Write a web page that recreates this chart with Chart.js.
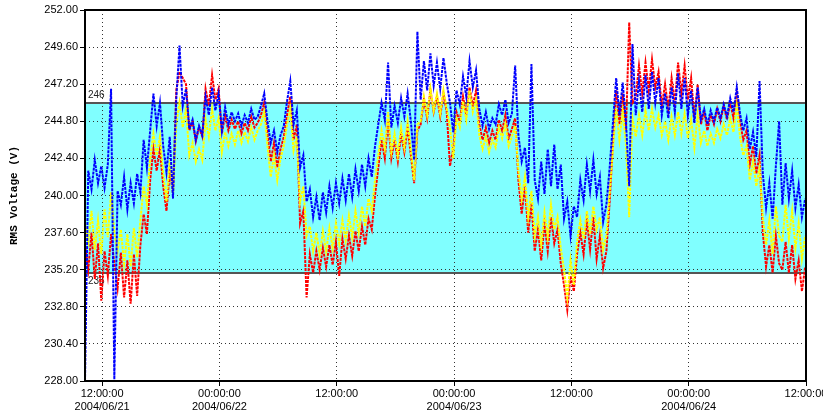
<!DOCTYPE html>
<html>
<head>
<meta charset="utf-8">
<script src="https://cdn.jsdelivr.net/npm/chart.js@4/dist/chart.umd.min.js"></script>
<style>
  html, body { margin: 0; padding: 0; background: #fff; overflow: hidden; }
  #wrap { width: 823px; height: 415px; }
</style>
</head>
<body>
<div id="wrap"><canvas id="voltChart" width="823" height="415"></canvas></div>
<script>
// Samples every 20 minutes, starting 10:15 on 2004/06/21 (hours counted from 06/21 00:00)
const startHour = 10.25;
const stepHours = 1 / 3;

const blueValues = [
  228.0, 241.6, 240.4, 242.3, 240.8, 241.9, 240.5, 242.0, 246.9, 228.1,
  240.3, 239.4, 241.2, 239.1, 240.8, 239.5, 241.4, 240.2, 243.6, 241.8,
  244.2, 246.6, 244.5, 246.0, 243.2, 241.5, 243.8, 239.8, 246.2, 249.7,
  245.8, 246.9, 244.3, 244.9, 243.6, 244.5, 243.9, 246.4, 245.2, 247.0,
  245.5, 246.6, 244.2, 245.7, 244.6, 245.4, 244.8, 245.3, 244.5, 245.2,
  244.7, 245.6, 244.9, 245.1, 245.8, 246.6, 244.8, 243.4, 244.2, 242.8,
  243.9, 244.5, 246.1, 247.4, 244.6, 245.5, 241.8, 242.6, 239.6, 240.4,
  238.6, 239.9, 238.4, 240.2, 238.9, 240.6, 239.2, 240.8, 239.5, 241.1,
  239.7, 241.4, 239.9, 241.7, 240.3, 242.0, 240.6, 242.4, 241.2, 243.2,
  244.6, 246.0, 244.9, 248.6, 244.4, 245.8, 244.7, 246.3, 245.1, 246.6,
  244.8, 242.3, 250.6, 246.2, 248.7, 246.8, 249.2, 247.1, 248.6, 246.9,
  248.9, 247.3, 246.0, 244.1, 246.8, 245.9, 247.7, 246.4, 248.7, 247.0,
  248.1, 245.6, 244.5, 245.4, 244.3, 245.0, 244.6, 245.9, 245.2, 246.2,
  244.7, 245.3, 248.4, 243.9, 242.2, 243.1, 240.8, 248.5, 241.0, 239.8,
  242.2, 240.1, 243.0, 240.6, 243.3, 240.4, 242.0, 238.5, 239.6, 237.4,
  239.3, 238.6, 241.0, 239.7, 242.0, 240.3, 242.3, 240.1, 241.2, 238.3,
  239.4, 241.8, 244.7, 247.6, 245.2, 247.3, 244.8, 240.6, 249.8, 245.2,
  247.4, 245.4, 247.8, 245.6, 248.0, 246.0, 247.6, 245.2, 246.6, 245.0,
  247.0, 245.4, 247.9, 245.6, 247.6, 245.2, 246.8, 244.7, 247.0, 244.9,
  245.6, 244.6, 245.5, 244.8, 245.7, 245.0, 245.9, 245.1, 246.3, 245.4,
  247.0, 245.3, 244.2, 245.0, 243.0, 244.1, 242.5, 247.4, 241.4, 239.2,
  240.8, 238.5, 241.9, 244.8, 239.4, 242.1, 239.8, 241.6, 239.2, 240.7,
  238.6, 239.8
];

const yellowValues = [
  238.2, 237.0, 239.0, 236.5, 238.4, 236.2, 239.1, 237.3, 240.2, 237.6,
  236.4, 237.8, 235.6, 237.5, 235.4, 237.9, 236.0, 238.4, 240.6, 239.4,
  242.4, 244.0, 242.6, 243.8, 241.4, 239.6, 242.3, 240.0, 244.6, 246.0,
  244.4, 245.6, 242.6, 243.4, 242.2, 243.0, 242.3, 244.9, 243.8, 245.6,
  244.2, 245.0, 242.8, 244.1, 243.2, 244.0, 243.3, 244.2, 243.4, 244.1,
  243.5, 244.4, 243.6, 244.2, 244.6, 245.4, 243.2, 241.2, 242.6, 241.0,
  242.4, 243.2, 244.6, 245.6, 242.9, 243.8, 239.6, 240.6, 237.4, 238.0,
  236.4, 237.6, 236.2, 237.7, 236.4, 237.9, 236.6, 238.2, 236.9, 238.4,
  237.1, 238.7, 237.3, 239.0, 237.6, 239.3, 238.0, 239.8, 239.0, 241.0,
  242.6, 244.2, 243.0, 245.4, 242.8, 244.0, 242.6, 244.4, 243.1, 244.8,
  242.9, 241.0, 244.6, 244.8, 246.4, 245.2, 246.9, 245.5, 246.6, 245.3,
  246.8, 245.6, 244.4, 242.4, 245.0, 244.4, 246.1, 244.9, 246.8, 245.4,
  246.2, 243.9, 243.0, 243.8, 242.8, 243.6, 243.1, 244.4, 243.7, 244.6,
  243.2, 243.8, 244.5, 241.6, 239.8, 241.2, 238.6, 240.3, 237.4, 238.6,
  236.8, 238.9, 237.3, 239.4, 237.8, 238.6, 236.6, 235.2, 233.4, 235.8,
  234.2, 237.0, 238.4, 237.2, 239.0, 237.5, 239.3, 237.8, 238.6, 236.5,
  237.4, 240.2, 243.0, 245.6, 243.6, 245.4, 243.3, 238.6, 245.0, 243.8,
  245.2, 243.9, 245.5, 244.2, 245.6, 244.4, 245.2, 243.9, 244.8, 243.6,
  245.1, 243.9, 245.4, 244.0, 245.3, 243.7, 244.9, 243.1, 245.2, 243.4,
  244.2, 243.2, 244.0, 243.4, 244.3, 243.7, 244.6, 243.9, 245.0, 244.1,
  245.8, 243.8, 242.6, 243.2, 241.0, 242.2, 240.6, 241.8, 238.6, 236.8,
  238.4, 236.2, 239.3, 237.4, 237.0, 239.4, 237.2, 239.0, 236.6, 238.2,
  235.9, 237.4
];

const redValues = [
  236.8, 235.2, 237.6, 234.6, 236.9, 233.2, 236.4, 234.8, 237.5, 235.6,
  234.0, 236.3, 233.4, 235.8, 233.0, 236.2, 233.5, 236.8, 238.8, 237.5,
  241.0, 243.0, 241.6, 243.0, 240.6, 239.0, 241.5, 240.2, 246.8, 248.0,
  247.6, 247.2, 244.2, 244.8, 243.5, 244.4, 243.8, 246.9, 245.8, 247.8,
  246.2, 246.9, 244.0, 245.2, 244.2, 244.9, 244.3, 244.8, 244.0, 244.7,
  244.2, 245.1, 244.4, 244.7, 245.2, 246.0, 244.0, 242.2, 243.4, 241.8,
  243.0, 243.8, 245.2, 246.4, 243.6, 244.6, 238.2, 239.0, 233.4, 236.2,
  235.0, 236.4, 235.2, 236.6, 235.4, 236.8, 235.5, 237.0, 234.8, 237.2,
  235.9, 237.4, 236.1, 237.7, 236.4, 238.0, 236.8, 238.5, 237.8, 240.0,
  241.8, 243.6, 242.4, 244.8, 242.4, 243.6, 242.2, 244.0, 242.8, 244.4,
  242.6, 240.8, 244.2, 244.6, 246.2, 245.0, 246.8, 245.4, 246.4, 245.1,
  246.6, 245.4, 241.9, 243.0, 245.4, 244.8, 246.4, 245.2, 247.0, 245.8,
  246.8, 244.6, 243.6, 244.4, 243.4, 244.2, 243.6, 244.9, 244.2, 245.2,
  243.7, 244.3, 245.0, 241.0, 238.8, 240.6, 237.6, 239.5, 236.4, 237.8,
  235.8, 238.2, 236.4, 238.6, 236.9, 237.8, 235.6, 234.2, 232.6, 234.8,
  233.8, 236.2, 237.6, 236.2, 238.4, 236.5, 238.6, 235.9, 237.4, 235.3,
  236.4, 239.6, 243.4, 246.8, 244.6, 246.6, 244.2, 251.2, 246.0, 246.4,
  248.4, 246.6, 248.6, 246.8, 248.8, 247.0, 248.0, 245.8, 247.2, 245.6,
  247.6, 246.0, 248.6, 246.6, 248.4, 246.2, 247.6, 245.0, 247.2, 244.6,
  245.4, 244.2, 245.2, 244.6, 245.6, 244.8, 245.8, 244.9, 246.0, 245.0,
  246.6, 244.8, 243.6, 244.2, 242.0, 243.2, 241.4, 242.6, 237.6, 235.4,
  236.8, 235.0, 237.4, 235.6, 235.2, 237.0, 235.0, 236.8, 234.6, 235.8,
  233.8, 235.4
];

const yTicks = [228, 230.4, 232.8, 235.2, 237.6, 240, 242.4, 244.8, 247.2, 249.6, 252];
const xTicks = [12, 24, 36, 48, 60, 72, 84];
const xTickLabels = [
  ['12:00:00', '2004/06/21'],
  ['00:00:00', '2004/06/22'],
  '12:00:00',
  ['00:00:00', '2004/06/23'],
  '12:00:00',
  ['00:00:00', '2004/06/24'],
  '12:00:00'
];
const bandLow = 235;
const bandHigh = 246;

function toPoints(vals) {
  return vals.map((v, i) => ({ x: startHour + i * stepHours, y: v }));
}

// cyan limit band, its edge lines and labels, plus the plot frame
const bandPlugin = {
  id: 'band',
  beforeDraw(chart) {
    const { ctx, chartArea: a, scales } = chart;
    const top = scales.y.getPixelForValue(bandHigh);
    const bot = scales.y.getPixelForValue(bandLow);
    ctx.save();
    ctx.fillStyle = '#80ffff';
    ctx.fillRect(a.left, top, a.right - a.left, bot - top);
    ctx.restore();
  },
  beforeDatasetsDraw(chart) {
    const { ctx, chartArea: a, scales } = chart;
    const top = Math.round(scales.y.getPixelForValue(bandHigh));
    const bot = Math.round(scales.y.getPixelForValue(bandLow));
    ctx.save();
    ctx.strokeStyle = '#555';
    ctx.lineWidth = 2;
    ctx.beginPath();
    ctx.moveTo(a.left, top); ctx.lineTo(a.right, top);
    ctx.moveTo(a.left, bot); ctx.lineTo(a.right, bot);
    ctx.stroke();
    ctx.fillStyle = '#222';
    ctx.font = '10px "Liberation Sans", Arial, sans-serif';
    ctx.textAlign = 'left';
    ctx.textBaseline = 'bottom';
    ctx.fillText(String(bandHigh), a.left + 3, top - 3);
    ctx.textBaseline = 'top';
    ctx.fillText(String(bandLow), a.left + 3, bot + 3);
    ctx.restore();
  },
  afterDraw(chart) {
    const { ctx, chartArea: a } = chart;
    ctx.save();
    ctx.strokeStyle = '#000';
    ctx.lineWidth = 2;
    ctx.strokeRect(a.left, a.top, a.right - a.left, a.bottom - a.top);
    ctx.restore();
  }
};

const lineStyle = { borderWidth: 2, borderDash: [3, 1], pointRadius: 0, fill: false, tension: 0 };

new Chart(document.getElementById('voltChart').getContext('2d'), {
  type: 'line',
  data: {
    datasets: [
      Object.assign({ label: 'Blue', data: toPoints(blueValues), borderColor: '#0000ff', order: 0 }, lineStyle),
      Object.assign({ label: 'Yellow', data: toPoints(yellowValues), borderColor: '#ffff00', order: 1 }, lineStyle),
      Object.assign({ label: 'Red', data: toPoints(redValues), borderColor: '#ff0000', order: 2 }, lineStyle)
    ]
  },
  options: {
    responsive: false,
    animation: false,
    devicePixelRatio: 1,
    layout: { padding: { top: 10, right: 17, left: 0, bottom: 0 } },
    plugins: { legend: { display: false }, tooltip: { enabled: false } },
    scales: {
      x: {
        type: 'linear',
        min: startHour,
        max: 84,
        afterBuildTicks(scale) { scale.ticks = xTicks.map(v => ({ value: v })); },
        afterFit(scale) { scale.height = 34; scale.paddingLeft = 0; scale.paddingRight = 0; },
        ticks: {
          autoSkip: false,
          maxRotation: 0,
          padding: 1,
          color: '#000',
          font: { family: '"Liberation Sans", Arial, sans-serif', size: 11 },
          callback: (v, i) => xTickLabels[i]
        },
        grid: { color: '#333', lineWidth: 1, tickLength: 5, tickColor: '#000', tickBorderDash: [] },
        border: { display: false, dash: [1, 3] }
      },
      y: {
        min: 228,
        max: 252,
        afterBuildTicks(scale) { scale.ticks = yTicks.map(v => ({ value: v })); },
        afterFit(scale) { scale.width = 85; },
        ticks: {
          padding: 2,
          color: '#000',
          font: { family: '"Liberation Sans", Arial, sans-serif', size: 11 },
          callback: v => Number(v).toFixed(2)
        },
        grid: { color: '#333', lineWidth: 1, tickLength: 5, tickColor: '#000', tickBorderDash: [] },
        border: { display: false, dash: [1, 3] },
        title: {
          display: true,
          text: 'RMS Voltage (V)',
          color: '#000',
          font: { family: '"Liberation Mono", "DejaVu Sans Mono", monospace', size: 11, weight: 'bold' },
          padding: { top: 8, bottom: 0 }
        }
      }
    }
  },
  plugins: [bandPlugin]
});
</script>
</body>
</html>
